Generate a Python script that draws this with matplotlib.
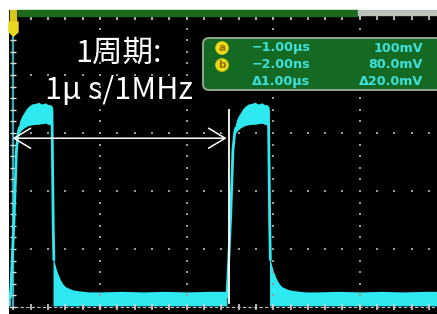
import matplotlib
matplotlib.use("Agg")
import matplotlib.pyplot as plt
from matplotlib.patches import FancyBboxPatch, Polygon, Rectangle
import numpy as np

# ----------------------------
# data: one pulse, time in us relative to its rising edge, level in divisions
# ----------------------------
pulse_starts = [-1.0, 0.0, 1.0]

rise_t = [-0.014, -0.008, 0.004, 0.014, 0.022, 0.028]
rise_v = [0.15, 0.60, 1.60, 2.70, 3.00, 3.10]

high_t = [0.024, 0.030, 0.040, 0.050, 0.060, 0.070, 0.085, 0.100, 0.116, 0.130, 0.148, 0.160, 0.171, 0.181]
high_top = [3.12, 3.22, 3.30, 3.36, 3.42, 3.46, 3.50, 3.51, 3.53, 3.50, 3.52, 3.49, 3.49, 3.45]
high_bot = [2.98, 3.02, 3.06, 3.09, 3.11, 3.13, 3.14, 3.15, 3.15, 3.16, 3.17, 3.15, 3.14, 3.10]

fall_t = [0.178, 0.181, 0.184, 0.187]
fall_v = [3.40, 2.40, 1.40, 0.80]

low_t = [0.183, 0.190, 0.199, 0.208, 0.217, 0.228, 0.240, 0.270, 0.300, 0.350, 0.400, 0.500, 0.600, 0.700, 0.800, 0.900, 0.986]
low_top = [0.88, 0.76, 0.64, 0.55, 0.47, 0.40, 0.35, 0.30, 0.28, 0.26, 0.26, 0.27, 0.26, 0.27, 0.26, 0.27, 0.27]
low_bot = [0.02, 0.02, 0.02, 0.02, 0.02, 0.02, 0.02, 0.02, 0.02, 0.02, 0.02, 0.02, 0.02, 0.02, 0.02, 0.02, 0.02]

# graticule (400 ns/div)
grid_t = [0.4, 0.8, 1.2, 1.6]
grid_v = [1, 2, 3, 4]

# cursor readout
readout_left = ["\u22121.00\u03bcs", "\u22122.00ns", "\u03941.00\u03bcs"]
readout_right = ["100mV", "80.0mV", "\u039420.0mV"]
cursor_t = 0.998

TRACE = "#2ee9ef"
W, H = 437, 314

fig = plt.figure(figsize=(W / 100, H / 100), dpi=100)
fig.patch.set_facecolor("white")
ax = fig.add_axes([9 / W, 0, 428 / W, 304 / H])
ax.set_facecolor("black")
ax.set_xlim(-0.0203, 1.9566)
ax.set_ylim(-0.121, 5.121)
ax.set_xticks([])
ax.set_yticks([])
for sp in ax.spines.values():
    sp.set_visible(False)

# graticule dots
dot_v = np.arange(0, 5.01, 0.2)
dot_t = np.arange(0, 1.97, 0.08)
for gt in grid_t:
    ax.plot([gt] * len(dot_v), dot_v, ls="none", marker="s", ms=1.8, color="#9a9a9a", mew=0)
for gv in grid_v:
    ax.plot(dot_t, [gv] * len(dot_t), ls="none", marker="s", ms=1.8, color="#9a9a9a", mew=0)
# top/bottom borders with ticks
ax.plot(dot_t, [0.0] * len(dot_t), ls="none", marker="|", ms=4, color="#d8d0d0", mew=1.2)
ax.axhline(0.0, color="#c8c0c0", lw=0.8, ls=(0, (3, 2)))
ax.plot(dot_t, [5.0] * len(dot_t), ls="none", marker="|", ms=4, color="#d0d0d0", mew=1.2)
# left border with ticks
ax.plot([-0.004, -0.004], [0.0, 4.68], color="#3aa8b8", lw=1.6)
ax.plot([-0.004] * len(dot_v[:-2]), dot_v[:-2], ls="none", marker="_", ms=5, color="#e0e0e0", mew=1.0)

# trace
for t0 in pulse_starts:
    lt = np.array(low_t) + t0
    ax.fill_between(lt, low_bot, low_top, color=TRACE, lw=0)
    ht = np.array(high_t) + t0
    ax.fill_between(ht, high_bot, high_top, color=TRACE, lw=0)
    ax.plot(np.array(rise_t) + t0, rise_v, color=TRACE, lw=2.0, solid_capstyle="butt")
    ax.plot(np.array(fall_t) + t0, fall_v, color=TRACE, lw=2.0, solid_capstyle="butt")

# cursor + period arrow
ax.plot([cursor_t, cursor_t], [0.07, 3.40], color="white", lw=1.3)
ax.annotate("", xy=(-0.017, 2.91), xytext=(cursor_t, 2.91),
            arrowprops=dict(arrowstyle="<->,head_length=1.0,head_width=0.6",
                            mutation_scale=12, color="white", lw=1.1))

jp = ["Noto Sans CJK JP", "DejaVu Sans"]
ax.text(0.4836, 4.38, "1周期:", color="white", fontsize=22, ha="center", va="center", family=jp)
ax.text(0.487, 3.74, "1\u03bc s/1MHz", color="white", fontsize=22, ha="center", va="center", family=jp)

# top record bar and trigger marker (figure inches)
fig.patches.append(Rectangle((0.18, 2.98), 3.40, 0.06, transform=fig.dpi_scale_trans,
                             color="#1b6b1b", zorder=5))
fig.patches.append(Rectangle((3.58, 2.99), 0.80, 0.05, transform=fig.dpi_scale_trans,
                             color="#b8c2b8", zorder=5))
fig.patches.append(Rectangle((0.10, 2.93), 0.06, 0.11, transform=fig.dpi_scale_trans,
                             color="#d8c818", zorder=6))
fig.patches.append(Polygon([(0.09, 2.92), (0.18, 2.92), (0.18, 2.82), (0.135, 2.78), (0.09, 2.82)],
                           closed=True, transform=fig.dpi_scale_trans, color="#e8d820", zorder=6))

# readout box
fig.patches.append(FancyBboxPatch((2.03, 2.24), 2.6, 0.52, transform=fig.dpi_scale_trans,
                                  boxstyle="round,pad=0,rounding_size=0.06",
                                  fc="#146a22", ec="#8fa88f", lw=1.4, zorder=7))
for i, lab in enumerate(["a", "b"]):
    fig.text(222 / W, 1 - (48 + 17 * i) / H, lab, color="#9a6a00", fontsize=7.5, fontweight="bold",
             ha="center", va="center", zorder=8,
             bbox=dict(boxstyle="circle,pad=0.15", fc="#e8dc20", ec="#c8b810", lw=0.5))
for i, s in enumerate(readout_left):
    fig.text(252 / W, 1 - (48 + 16.5 * i) / H, s, color="#3fe0dc", fontsize=9.2,
             fontweight="bold", ha="left", va="center", zorder=8)
for i, s in enumerate(readout_right):
    fig.text(423 / W, 1 - (48 + 16.5 * i) / H, s, color="#3fe0dc", fontsize=9.2,
             fontweight="bold", ha="right", va="center", zorder=8)

plt.savefig("out.png", dpi=100, facecolor="white")
